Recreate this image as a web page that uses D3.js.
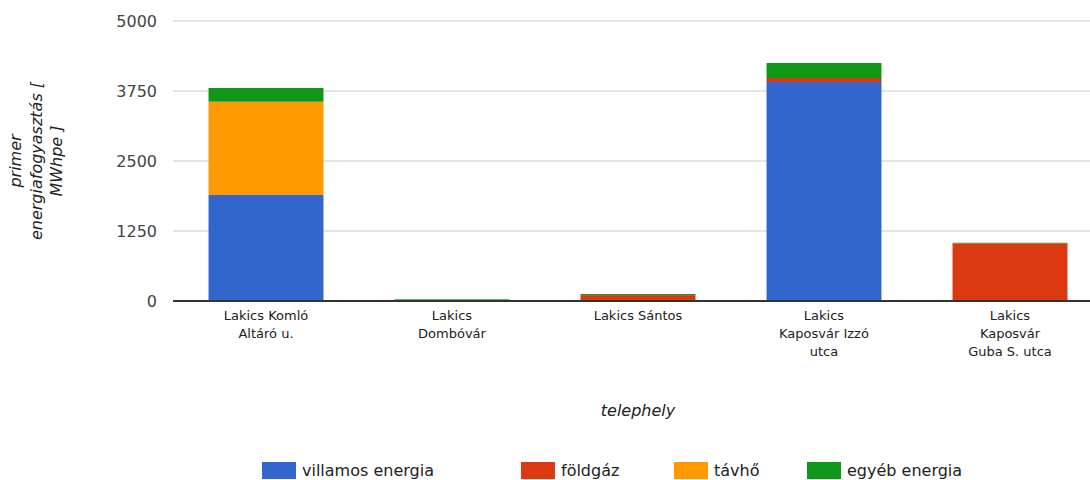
<!DOCTYPE html>
<html>
<head>
<meta charset="utf-8">
<script src="https://cdn.jsdelivr.net/npm/d3@7"></script>
<style>
  body { margin: 0; background: #fff; }
  svg { display: block; font-family: "DejaVu Sans", sans-serif; }
</style>
</head>
<body>
<svg id="chart"></svg>
<script>
let width = 1090, height = 480;

// Data
let categories = [
  "Lakics Komló\nAltáró u.",
  "Lakics\nDombóvár",
  "Lakics Sántos",
  "Lakics\nKaposvár Izzó\nutca",
  "Lakics\nKaposvár\nGuba S. utca"
];
let seriesNames = ["villamos energia", "földgáz", "távhő", "egyéb energia"];
let villamos = [1893, 0, 0, 3910, 0];
let foldgaz = [0, 0, 105, 72, 1030];
let tavho = [1666, 0, 0, 0, 0];
let egyeb = [245, 30, 20, 268, 10];
let yTicks = [0, 1250, 2500, 3750, 5000];
let colors = ["#3366cc", "#dc3912", "#ff9900", "#109618"];

let margin = { top: 21, right: -13, bottom: 179, left: 173 };

let table = categories.map((c, i) => ({
  cat: c,
  "villamos energia": villamos[i],
  "földgáz": foldgaz[i],
  "távhő": tavho[i],
  "egyéb energia": egyeb[i]
}));

let stack = d3.stack().keys(seriesNames)(table);

// Scales
let xScale = d3.scaleBand()
  .domain(categories)
  .range([margin.left, width - margin.right])
  .paddingInner(0.382)
  .paddingOuter(0.191);

let yScale = d3.scaleLinear()
  .domain([0, 5000])
  .range([height - margin.bottom, margin.top]);

let svg = d3.select("#chart")
  .attr("width", width)
  .attr("height", height)
  .attr("viewBox", [0, 0, width, height]);

// Gridlines
svg.append("g")
  .selectAll("line")
  .data(yTicks.filter(d => d !== 0))
  .join("line")
  .attr("x1", margin.left)
  .attr("x2", width)
  .attr("y1", d => yScale(d))
  .attr("y2", d => yScale(d))
  .attr("stroke", "#cccccc")
  .attr("stroke-width", 1.2);

// Y axis labels
let yAxis = d3.axisLeft(yScale)
  .tickValues(yTicks)
  .tickFormat(d3.format("d"))
  .tickSize(0)
  .tickPadding(16);
let yg = svg.append("g")
  .attr("transform", `translate(${margin.left},0)`)
  .call(yAxis);
yg.select(".domain").remove();
yg.selectAll("text")
  .attr("font-family", "DejaVu Sans")
  .attr("font-size", 16)
  .attr("fill", "#444");

// Bars
svg.append("g")
  .selectAll("g")
  .data(stack)
  .join("g")
  .attr("fill", (d, i) => colors[i])
  .selectAll("rect")
  .data(d => d.filter(s => s[1] - s[0] > 0))
  .join("rect")
  .attr("x", d => xScale(d.data.cat))
  .attr("width", xScale.bandwidth())
  .attr("y", d => yScale(d[1]))
  .attr("height", d => yScale(d[0]) - yScale(d[1]));

// Baseline
svg.append("line")
  .attr("x1", margin.left)
  .attr("x2", width)
  .attr("y1", yScale(0))
  .attr("y2", yScale(0))
  .attr("stroke", "#333")
  .attr("stroke-width", 2);

// Category labels
let xg = svg.append("g")
  .attr("font-size", 13)
  .attr("fill", "#222")
  .attr("text-anchor", "middle");
categories.forEach(c => {
  let t = xg.append("text")
    .attr("x", xScale(c) + xScale.bandwidth() / 2)
    .attr("y", 320);
  c.split("\n").forEach((line, i) => {
    t.append("tspan")
      .attr("x", xScale(c) + xScale.bandwidth() / 2)
      .attr("dy", i === 0 ? 0 : 18)
      .text(line);
  });
});

// X title
svg.append("text")
  .attr("x", (margin.left + 1103) / 2)
  .attr("y", 416)
  .attr("text-anchor", "middle")
  .attr("font-size", 16)
  .attr("font-style", "italic")
  .attr("fill", "#222")
  .text("telephely");

// Y title
let yTitle = ["primer", "energiafogyasztás [", "MWhpe ]"];
let yt = svg.append("text")
  .attr("transform", `translate(21,${yScale(2500)}) rotate(-90)`)
  .attr("text-anchor", "middle")
  .attr("font-size", 16)
  .attr("font-style", "italic")
  .attr("fill", "#222");
yTitle.forEach((line, i) => {
  yt.append("tspan")
    .attr("x", 0)
    .attr("dy", i === 0 ? 0 : 20.5)
    .text(line);
});

// Legend
let legendX = [262, 521, 674, 807];
let legend = svg.append("g");
seriesNames.forEach((name, i) => {
  legend.append("rect")
    .attr("x", legendX[i])
    .attr("y", 462)
    .attr("width", 34)
    .attr("height", 17)
    .attr("fill", colors[i]);
  legend.append("text")
    .attr("x", legendX[i] + 40)
    .attr("y", 476)
    .attr("font-size", 16)
    .attr("fill", "#222")
    .text(name);
});
</script>
</body>
</html>
